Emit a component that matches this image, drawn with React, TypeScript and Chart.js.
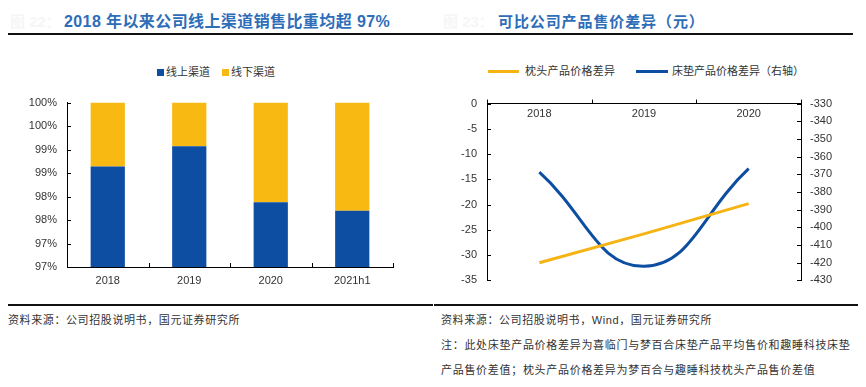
import React, { useEffect, useRef } from 'react';
import { Chart, registerables } from 'chart.js';

Chart.register(...registerables);

// ---------- Data: left chart (channel share) ----------
const channelCategories = ['2018', '2019', '2020', '2021h1'];
const onlineShare = [98.64, 99.07, 97.88, 97.7];
const offlineShare = [1.36, 0.93, 2.12, 2.3];
const shareSeriesNames = ['线上渠道', '线下渠道'];
const shareTickLabels = ['97%', '97%', '98%', '98%', '99%', '99%', '100%', '100%'];

// ---------- Data: right chart (price differences) ----------
const priceYears = ['2018', '2019', '2020'];
const pillowDiff = [-31.5, -25.8, -19.8];
const mattressDiff = [-368.8, -422.0, -366.8];
const priceSeriesNames = ['枕头产品价格差异', '床垫产品价格差异（右轴）'];

const BLUE = '#0D4EA2';
const YELLOW = '#F8B912';
const LINE_ORANGE = '#F6B414';
const TITLE_BLUE = '#2E6DB8';
const TICK_FONT = { family: '"Liberation Sans", Arial, sans-serif', size: 11 };
const CJK = '"Liberation Sans", "Noto Sans CJK SC", sans-serif';

// draws short tick marks on the inside/outside of axes
const tickMarks = {
  id: 'tickMarks',
  afterDraw(chart: any, _args: any, opts: any) {
    const ctx = chart.ctx;
    const area = chart.chartArea;
    ctx.save();
    ctx.strokeStyle = '#000';
    ctx.lineWidth = 1;
    (opts.specs || []).forEach((spec: any) => {
      const scale = chart.scales[spec.id];
      if (!scale) return;
      if (spec.kind === 'y') {
        const x0 = spec.side === 'left' ? area.left : area.right;
        scale.ticks.forEach((t: any) => {
          const y = Math.round(scale.getPixelForValue(t.value)) + 0.5;
          ctx.beginPath();
          ctx.moveTo(x0, y);
          ctx.lineTo(x0 + spec.dir * 4, y);
          ctx.stroke();
        });
      } else {
        const n = scale.ticks.length;
        const y0 = spec.at === 'top' ? area.top : area.bottom;
        for (let i = 0; i <= n; i++) {
          const x = Math.round(area.left + (i * (area.right - area.left)) / n) + 0.5;
          ctx.beginPath();
          ctx.moveTo(x, y0);
          ctx.lineTo(x, y0 + spec.dir * 4);
          ctx.stroke();
        }
      }
    });
    ctx.restore();
  },
};

function ShareChart() {
  const ref = useRef<HTMLCanvasElement>(null);
  useEffect(() => {
    const chart = new Chart(ref.current as HTMLCanvasElement, {
      type: 'bar',
      data: {
        labels: channelCategories,
        datasets: [
          { label: shareSeriesNames[0], data: onlineShare, backgroundColor: BLUE, categoryPercentage: 1, barPercentage: 0.42 },
          { label: shareSeriesNames[1], data: offlineShare, backgroundColor: YELLOW, categoryPercentage: 1, barPercentage: 0.42 },
        ],
      },
      options: {
        animation: false,
        responsive: false,
        maintainAspectRatio: false,
        layout: { padding: { top: 6, right: 40, left: 0, bottom: 0 } },
        plugins: {
          legend: { display: false },
          tooltip: { enabled: false },
          tickMarks: {
            specs: [
              { id: 'y', kind: 'y', side: 'left', dir: 1 },
              { id: 'x', kind: 'x', at: 'bottom', dir: -1 },
            ],
          },
        } as any,
        scales: {
          x: {
            stacked: true,
            grid: { display: false, drawTicks: false },
            border: { display: true, color: '#000', width: 1 },
            ticks: { font: TICK_FONT, color: '#333', padding: 7 },
            afterFit: (s: any) => { s.height = 33; },
          },
          y: {
            stacked: true,
            min: 96.5,
            max: 100,
            grid: { display: false, drawTicks: false },
            border: { display: true, color: '#000', width: 1 },
            ticks: {
              stepSize: 0.5,
              font: TICK_FONT,
              color: '#333',
              padding: 10,
              callback: (_v: any, i: number) => shareTickLabels[i],
            },
            afterFit: (s: any) => { s.width = 67; },
          },
        },
      },
      plugins: [tickMarks],
    });
    return () => chart.destroy();
  }, []);
  return <canvas ref={ref} width={433} height={214} style={{ width: 433, height: 214, display: 'block' }} />;
}

function PriceChart() {
  const ref = useRef<HTMLCanvasElement>(null);
  useEffect(() => {
    const chart = new Chart(ref.current as HTMLCanvasElement, {
      type: 'line',
      data: {
        labels: priceYears,
        datasets: [
          { label: priceSeriesNames[0], data: pillowDiff, borderColor: LINE_ORANGE, backgroundColor: LINE_ORANGE, borderWidth: 3, pointRadius: 0, tension: 0, yAxisID: 'y' },
          { label: priceSeriesNames[1], data: mattressDiff, borderColor: BLUE, backgroundColor: BLUE, borderWidth: 3, pointRadius: 0, tension: 0.45, yAxisID: 'y2' },
        ],
      },
      options: {
        animation: false,
        responsive: false,
        maintainAspectRatio: false,
        layout: { padding: { top: 7, right: 0, left: 0, bottom: 12 } },
        plugins: {
          legend: { display: false },
          tooltip: { enabled: false },
          tickMarks: {
            specs: [
              { id: 'y', kind: 'y', side: 'left', dir: 1 },
              { id: 'y2', kind: 'y', side: 'right', dir: -1 },
              { id: 'x', kind: 'x', at: 'top', dir: -1 },
            ],
          },
        } as any,
        scales: {
          x: {
            position: { y: 0 } as any,
            offset: true,
            grid: { display: false, drawTicks: false },
            border: { display: true, color: '#000', width: 1 },
            ticks: { font: TICK_FONT, color: '#333', padding: 4 },
          },
          y: {
            position: 'left',
            min: -35,
            max: 0,
            grid: { display: false, drawTicks: false },
            border: { display: true, color: '#000', width: 1 },
            ticks: { stepSize: 5, font: TICK_FONT, color: '#333', padding: 10, callback: (v: any) => String(v) },
            afterFit: (s: any) => { s.width = 54; },
          },
          y2: {
            position: 'right',
            min: -430,
            max: -330,
            grid: { display: false, drawTicks: false },
            border: { display: true, color: '#000', width: 1 },
            ticks: { stepSize: 10, font: TICK_FONT, color: '#333', padding: 9, callback: (v: any) => String(v) },
            afterFit: (s: any) => { s.width = 65; },
          },
        },
      },
      plugins: [tickMarks],
    });
    return () => chart.destroy();
  }, []);
  return <canvas ref={ref} width={433} height={210} style={{ width: 433, height: 210, display: 'block' }} />;
}

const abs = (left: number, top: number, extra: any = {}) => ({ position: 'absolute' as const, left, top, ...extra });

export default function App() {
  const smallText = { fontFamily: CJK, fontSize: 11, color: '#333', whiteSpace: 'nowrap' as const, lineHeight: '14px' };
  return (
    <div style={{ position: 'absolute', left: 0, top: 0, width: 866, height: 387, background: '#fff', overflow: 'hidden' }}>
      {/* titles */}
      <div style={abs(10, 13, { fontFamily: CJK, fontSize: 15, fontWeight: 'bold', color: '#f6f6f6', whiteSpace: 'nowrap', lineHeight: '18px' })}>图 22：</div>
      <div style={abs(64, 12, { fontFamily: CJK, fontSize: 16, fontWeight: 'bold', color: TITLE_BLUE, whiteSpace: 'nowrap', lineHeight: '20px', letterSpacing: '0.4px' })}>
        2018 年以来公司线上渠道销售比重均超 97%
      </div>
      <div style={abs(443, 13, { fontFamily: CJK, fontSize: 15, fontWeight: 'bold', color: '#f6f6f6', whiteSpace: 'nowrap', lineHeight: '18px' })}>图 23：</div>
      <div style={abs(498, 12, { fontFamily: CJK, fontSize: 15, fontWeight: 'bold', color: TITLE_BLUE, whiteSpace: 'nowrap', lineHeight: '20px', letterSpacing: '0.9px' })}>
        可比公司产品售价差异（元）
      </div>
      <div style={abs(8, 33, { width: 425, height: 2, background: '#111' })} />
      <div style={abs(433, 33, { width: 420, height: 2, background: '#111' })} />

      {/* charts */}
      <div style={abs(0, 86)}><ShareChart /></div>
      <div style={abs(433, 87)}><PriceChart /></div>

      {/* left legend */}
      <div style={abs(157, 69, { width: 7, height: 7, background: BLUE })} />
      <div style={abs(166, 65, smallText)}>{shareSeriesNames[0]}</div>
      <div style={abs(222, 69, { width: 7, height: 7, background: YELLOW })} />
      <div style={abs(231, 65, smallText)}>{shareSeriesNames[1]}</div>

      {/* right legend */}
      <div style={abs(488, 70, { width: 31, height: 3, background: LINE_ORANGE })} />
      <div style={abs(525, 64, { ...smallText, letterSpacing: '0.3px' })}>{priceSeriesNames[0]}</div>
      <div style={abs(636, 70, { width: 32, height: 3, background: BLUE })} />
      <div style={abs(672, 64, { ...smallText, letterSpacing: '0px' })}>{priceSeriesNames[1]}</div>

      {/* bottom rule and notes */}
      <div style={abs(8, 304, { width: 425, height: 2, background: '#111' })} />
      <div style={abs(434, 304, { width: 424, height: 2, background: '#111' })} />
      <div style={abs(8, 313, { ...smallText, letterSpacing: '0.6px' })}>资料来源：公司招股说明书，国元证券研究所</div>
      <div style={abs(441, 313, { ...smallText, letterSpacing: '0.6px' })}>资料来源：公司招股说明书，Wind，国元证券研究所</div>
      <div style={abs(441, 338, { ...smallText, letterSpacing: '0.7px' })}>注：此处床垫产品价格差异为喜临门与梦百合床垫产品平均售价和趣睡科技床垫</div>
      <div style={abs(441, 363, { ...smallText, letterSpacing: '0.7px' })}>产品售价差值；枕头产品价格差异为梦百合与趣睡科技枕头产品售价差值</div>
    </div>
  );
}
